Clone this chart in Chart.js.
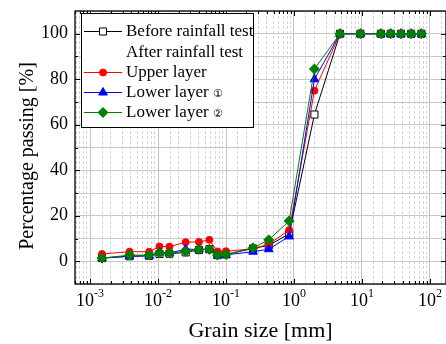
<!DOCTYPE html>
<html>
<head>
<meta charset="utf-8">
<script src="https://cdn.jsdelivr.net/npm/chart.js@4.4.1/dist/chart.umd.min.js"></script>
<style>
    html, body { margin: 0; padding: 0; background: #fff; overflow: hidden; }
    #wrap { width: 452px; height: 344px; }
</style>
</head>
<body>
<div id="wrap"><canvas id="chart" width="452" height="344"></canvas></div>
<script>
// grain size [mm] of each measurement
const grainSize = [0.0015, 0.0038, 0.0074, 0.0105, 0.0147, 0.0255, 0.040, 0.057, 0.075, 0.1,
    0.25, 0.425, 0.85, 2, 4.75, 9.5, 19, 26.5, 37.5, 53, 75];

// percentage passing [%]
const beforeRain = [1.4, 2.2, 2.4, 3.2, 3.3, 3.9, 5.0, 5.3, 2.7, 3.0,
    5.6, 7.0, 12.0, 64.5, 100, 100, 100, 100, 100, 100, 100];
const upperLayer = [3.2, 4.2, 4.2, 6.5, 6.4, 8.4, 8.5, 9.4, 4.3, 4.4,
    5.5, 7.5, 13.7, 75, 100, 100, 100, 100, 100, 100, 100];
const lowerLayer1 = [1.4, 2.2, 2.4, 3.9, 3.6, 5.3, 5.2, 5.3, 2.5, 2.8,
    4.2, 5.3, 10.9, 80, 100, 100, 100, 100, 100, 100, 100];
const lowerLayer2 = [1.4, 2.7, 2.7, 3.6, 3.6, 4.3, 5.2, 5.2, 2.7, 3.0,
    5.9, 9.4, 17.7, 84.5, 100, 100, 100, 100, 100, 100, 100];

const xTickExponents = [-3, -2, -1, 0, 1, 2];
const yTickLabels = [0, 20, 40, 60, 80, 100];
const legendRows = ['Before rainfall test', 'After rainfall test', 'Upper layer', 'Lower layer', 'Lower layer'];
const legendMarks = ['', '', '', '\u2460', '\u2461'];

const SERIF = "'Liberation Serif', 'Times New Roman', 'DejaVu Serif', serif";

function toPoints(ys) {
    return grainSize.map((x, i) => ({x: x, y: ys[i]}));
}

function drawMarker(ctx, ds, x, y) {
    const r = ds.pointRadius;
    ctx.beginPath();
    if (ds.pointStyle === 'circle') {
        ctx.arc(x, y, r, 0, Math.PI * 2);
    } else if (ds.pointStyle === 'rect') {
        const s = r * Math.SQRT1_2;
        ctx.rect(x - s, y - s, 2 * s, 2 * s);
    } else if (ds.pointStyle === 'triangle') {
        ctx.moveTo(x, y - r);
        ctx.lineTo(x + r * Math.sin(Math.PI * 2 / 3), y - r * Math.cos(Math.PI * 2 / 3));
        ctx.lineTo(x - r * Math.sin(Math.PI * 2 / 3), y - r * Math.cos(Math.PI * 2 / 3));
    } else {
        ctx.moveTo(x, y - r);
        ctx.lineTo(x + r, y);
        ctx.lineTo(x, y + r);
        ctx.lineTo(x - r, y);
    }
    ctx.closePath();
    ctx.fillStyle = ds.pointBackgroundColor;
    ctx.fill();
    ctx.lineWidth = 1;
    ctx.strokeStyle = ds.pointBorderColor;
    ctx.stroke();
}

const framePlugin = {
    id: 'frame',
    afterDatasetsDraw(chart) {
        const ctx = chart.ctx;
        const a = chart.chartArea;
        const xs = chart.scales.x;
        const ys = chart.scales.y;
        ctx.save();

        // inward tick marks on all four sides
        ctx.strokeStyle = '#000';
        ctx.lineWidth = 1;
        ctx.beginPath();
        for (let e = -4; e <= 2; e++) {
            for (let m = 1; m <= 9; m++) {
                const v = m * Math.pow(10, e);
                if (v < xs.min || v > xs.max) continue;
                const px = Math.round(xs.getPixelForValue(v)) + 0.5;
                const len = m === 1 ? 5 : 3;
                ctx.moveTo(px, a.bottom);
                ctx.lineTo(px, a.bottom - len);
                ctx.moveTo(px, a.top);
                ctx.lineTo(px, a.top + len);
            }
        }
        for (let v = 0; v <= 100; v += 10) {
            const py = Math.round(ys.getPixelForValue(v)) + 0.5;
            const len = v % 20 === 0 ? 5 : 3;
            ctx.moveTo(a.left, py);
            ctx.lineTo(a.left + len, py);
            ctx.moveTo(a.right, py);
            ctx.lineTo(a.right - len, py);
        }
        ctx.stroke();

        // frame
        ctx.lineWidth = 1.3;
        ctx.strokeRect(a.left, a.top, a.right - a.left, a.bottom - a.top);

        // x tick labels as powers of ten
        ctx.fillStyle = '#000';
        ctx.textBaseline = 'alphabetic';
        ctx.textAlign = 'left';
        xTickExponents.forEach((e) => {
            const px = xs.getPixelForValue(Math.pow(10, e));
            ctx.font = '18px ' + SERIF;
            const base = '10';
            const w1 = ctx.measureText(base).width;
            ctx.font = '12px ' + SERIF;
            const sup = String(e);
            const w2 = ctx.measureText(sup).width;
            const x0 = px - (w1 + w2) / 2;
            ctx.font = '18px ' + SERIF;
            ctx.fillText(base, x0, 306);
            ctx.font = '12px ' + SERIF;
            ctx.fillText(sup, x0 + w1, 297);
        });

        // y axis title
        ctx.save();
        ctx.translate(28, 156);
        ctx.rotate(-Math.PI / 2);
        ctx.font = '20px ' + SERIF;
        ctx.textAlign = 'center';
        ctx.textBaseline = 'middle';
        ctx.fillText('Percentage passing [%]', 0, 0);
        ctx.restore();

        // legend box
        const lx = 81, ly = 13, lw = 172, lh = 114;
        ctx.fillStyle = '#fff';
        ctx.fillRect(lx, ly, lw, lh);
        ctx.strokeStyle = '#000';
        ctx.lineWidth = 1;
        ctx.strokeRect(lx + 0.5, ly + 0.5, lw, lh);

        const rowY = [31, 52, 72, 92, 112];
        const dsForRow = [0, -1, 1, 2, 3];
        ctx.textBaseline = 'middle';
        ctx.textAlign = 'left';
        legendRows.forEach((label, i) => {
            const y = rowY[i];
            const di = dsForRow[i];
            if (di >= 0) {
                const ds = chart.data.datasets[di];
                ctx.strokeStyle = ds.borderColor;
                ctx.lineWidth = 1;
                ctx.beginPath();
                ctx.moveTo(84, y + 0.5);
                ctx.lineTo(122, y + 0.5);
                ctx.stroke();
                drawMarker(ctx, ds, 103, y + 0.5);
            }
            ctx.fillStyle = '#000';
            ctx.font = '17px ' + SERIF;
            ctx.fillText(label, 126, y + 1);
            if (legendMarks[i]) {
                const w = ctx.measureText(label + ' ').width;
                ctx.font = "11px 'DejaVu Sans', sans-serif";
                ctx.fillText(legendMarks[i], 126 + w, y + 2);
            }
        });

        ctx.restore();
    }
};

const ctx = document.getElementById('chart').getContext('2d');
new Chart(ctx, {
    type: 'line',
    data: {
        datasets: [
            {
                label: legendRows[0],
                data: toPoints(beforeRain),
                borderColor: '#000',
                borderWidth: 1,
                pointStyle: 'rect',
                pointRadius: 5,
                pointBackgroundColor: '#fff',
                pointBorderColor: '#000',
                pointBorderWidth: 1,
                order: 3
            },
            {
                label: legendRows[2],
                data: toPoints(upperLayer),
                borderColor: '#ff0000',
                borderWidth: 1,
                pointStyle: 'circle',
                pointRadius: 3.5,
                pointBackgroundColor: '#ff0000',
                pointBorderColor: '#ff0000',
                pointBorderWidth: 1,
                order: 2
            },
            {
                label: legendRows[3] + ' \u2460',
                data: toPoints(lowerLayer1),
                borderColor: '#0000ff',
                borderWidth: 1,
                pointStyle: 'triangle',
                pointRadius: 5,
                pointBackgroundColor: '#0000ff',
                pointBorderColor: '#0000ff',
                pointBorderWidth: 1,
                order: 1
            },
            {
                label: legendRows[4] + ' \u2461',
                data: toPoints(lowerLayer2),
                borderColor: '#008000',
                borderWidth: 1,
                pointStyle: 'rectRot',
                pointRadius: 5,
                pointBackgroundColor: '#008000',
                pointBorderColor: '#008000',
                pointBorderWidth: 1,
                order: 0
            }
        ]
    },
    options: {
        responsive: false,
        animation: false,
        devicePixelRatio: 1,
        layout: {padding: {left: 0, top: 11, right: 5, bottom: 0}},
        plugins: {
            legend: {display: false},
            tooltip: {enabled: false}
        },
        scales: {
            x: {
                type: 'logarithmic',
                min: 0.000628,
                max: 172.5,
                afterFit: (scale) => {
                    scale.height = 60;
                    scale.paddingLeft = 0;
                    scale.paddingRight = 0;
                },
                ticks: {display: false, autoSkip: false},
                grid: {
                    drawTicks: false,
                    color: (c) => (c.tick && c.tick.major ? '#c4c4c4' : '#d6d6d6'),
                    lineWidth: 1
                },
                border: {
                    display: false,
                    dash: (c) => (c.tick && c.tick.major ? [] : [3, 2])
                },
                title: {
                    display: true,
                    text: 'Grain size [mm]',
                    color: '#000',
                    font: {family: SERIF, size: 22},
                    padding: {top: 0, bottom: 0}
                }
            },
            y: {
                min: -10,
                max: 110,
                afterFit: (scale) => {
                    scale.width = 75;
                    scale.paddingTop = 0;
                    scale.paddingBottom = 0;
                },
                ticks: {
                    stepSize: 10,
                    autoSkip: false,
                    padding: 7,
                    color: '#000',
                    font: {family: SERIF, size: 18},
                    callback: (v) => (yTickLabels.includes(v) ? String(v) : '')
                },
                grid: {
                    drawTicks: false,
                    color: '#c8c8c8',
                    lineWidth: 1
                },
                border: {display: false},
                title: {display: false}
            }
        }
    },
    plugins: [framePlugin]
});
</script>
</body>
</html>
